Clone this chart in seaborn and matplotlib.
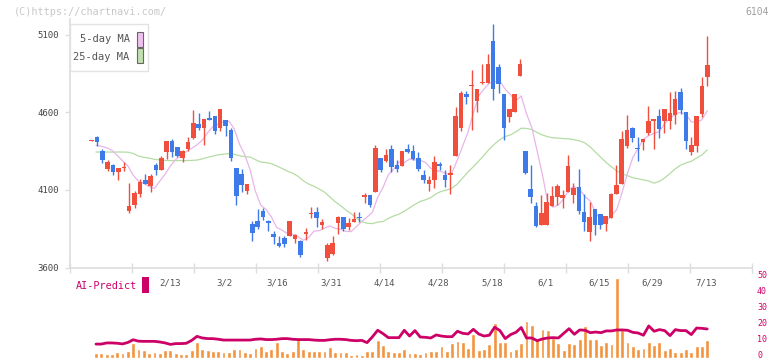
import matplotlib
matplotlib.use("Agg")
import matplotlib.pyplot as plt
from matplotlib.patches import Rectangle
from matplotlib.transforms import ScaledTranslation
import numpy as np
import pandas as pd
import seaborn as sns

# daily candles (red = up, blue = down)
opens = [4414, 4439, 4348, 4234, 4258, 4215, 4240, 3963, 4000, 4073, 4161, 4125, 4258, 4228, 4344, 4417,
         4379, 4305, 4361, 4434, 4523, 4499, 4566, 4574, 4499, 4548, 4484, 4239, 4204, 4092, 3882, 3897,
         3961, 3897, 3817, 3759, 3787, 3802, 3785, 3768, 3819, 3944, 3955, 3873, 3660, 3684, 3884, 3923,
         3858, 3892, 3925, 4054, 4065, 4086, 4303, 4284, 4361, 4258, 4254, 4361, 4348, 4303, 4194, 4138,
         4166, 4265, 4194, 4196, 4318, 4499, 4720, 4768, 4673, 4789, 4791, 5058, 4890, 4716, 4570, 4602,
         4834, 4348, 4103, 3994, 3877, 3873, 3996, 4054, 4047, 4086, 4067, 4116, 3955, 3828, 3974, 3942,
         3880, 3918, 4071, 4138, 4381, 4497, 4370, 4409, 4467, 4544, 4574, 4544, 4544, 4583, 4729, 4600,
         4342, 4381, 4589, 4828]
highs = [4420, 4445, 4366, 4295, 4265, 4243, 4280, 4142, 4090, 4172, 4200, 4204, 4271, 4316, 4417, 4426,
         4379, 4359, 4439, 4613, 4594, 4555, 4606, 4574, 4619, 4548, 4501, 4243, 4232, 4136, 3897, 3974,
         3981, 3903, 3834, 3806, 3806, 3897, 3817, 3779, 3854, 3989, 3989, 3910, 3755, 3806, 3930, 3923,
         3916, 3955, 3955, 4077, 4065, 4387, 4303, 4361, 4387, 4290, 4348, 4394, 4387, 4342, 4226, 4187,
         4316, 4277, 4226, 4258, 4634, 4740, 4738, 4875, 4753, 4914, 4974, 5168, 4910, 4716, 4619, 4716,
         4942, 4348, 4258, 4019, 4065, 4077, 4123, 4136, 4097, 4323, 4142, 4232, 4071, 4019, 3974, 3942,
         3929, 4077, 4258, 4477, 4581, 4503, 4439, 4426, 4639, 4557, 4619, 4619, 4729, 4735, 4755, 4600,
         4439, 4574, 4826, 5090]
lows = [4412, 4383, 4273, 4222, 4196, 4163, 4222, 3951, 3983, 4054, 4136, 4086, 4198, 4226, 4297, 4314,
        4312, 4280, 4353, 4430, 4488, 4389, 4548, 4460, 4480, 4447, 4286, 4002, 4086, 4073, 3770, 3849,
        3905, 3834, 3751, 3733, 3731, 3802, 3759, 3667, 3779, 3916, 3860, 3845, 3641, 3680, 3813, 3834,
        3839, 3892, 3890, 4015, 3989, 4086, 4215, 4277, 4215, 4215, 4254, 4336, 4290, 4222, 4146, 4092,
        4112, 4226, 4118, 4073, 4318, 4481, 4652, 4484, 4602, 4785, 4791, 4677, 4725, 4424, 4538, 4602,
        4834, 4202, 4015, 3858, 3877, 3873, 3996, 4002, 3985, 4086, 4015, 3942, 3832, 3770, 3809, 3847,
        3834, 3918, 4071, 4138, 4368, 4409, 4286, 4355, 4454, 4361, 4434, 4467, 4492, 4525, 4587, 4361,
        4325, 4344, 4570, 4770]
closes = [4418, 4409, 4292, 4277, 4215, 4243, 4245, 3994, 4077, 4153, 4138, 4187, 4228, 4303, 4417, 4344,
          4318, 4353, 4406, 4529, 4499, 4555, 4553, 4480, 4619, 4512, 4305, 4060, 4131, 4136, 3822, 3858,
          3923, 3888, 3796, 3738, 3751, 3897, 3811, 3680, 3828, 3953, 3918, 3890, 3748, 3755, 3923, 3847,
          3884, 3910, 3918, 4065, 4002, 4368, 4228, 4323, 4247, 4234, 4348, 4342, 4297, 4234, 4161, 4161,
          4277, 4254, 4161, 4207, 4574, 4725, 4699, 4776, 4753, 4798, 4910, 4751, 4785, 4499, 4619, 4716,
          4910, 4209, 4054, 3865, 3948, 4019, 4058, 4123, 4065, 4252, 4110, 3963, 3893, 3923, 3873, 3873,
          3929, 4071, 4129, 4426, 4484, 4434, 4363, 4426, 4542, 4557, 4490, 4619, 4594, 4684, 4615, 4415,
          4387, 4574, 4768, 4903]

# moving averages before enough history is on the chart
ma5_head = [4387, 4381, 4372, 4355]
ma25_head = [4344, 4344, 4344, 4344, 4344, 4344, 4343, 4335, 4318, 4310, 4305, 4297, 4293, 4290,
             4289, 4289, 4289, 4289, 4290, 4292, 4300, 4310, 4318, 4326]

volume = [2.9, 2.9, 2.3, 2.3, 3.3, 2.9, 4.2, 9.0, 5.4, 5.0, 2.9, 3.5, 3.1, 4.8, 4.8, 2.7, 2.3, 2.3,
          4.8, 9.8, 5.4, 5.0, 4.2, 4.2, 3.75, 3.75, 5.4, 5.4, 3.3, 2.9, 5.8, 7.1, 4.2, 5.4, 9.8, 4.2,
          2.9, 4.2, 12.3, 5.4, 4.2, 4.2, 4.2, 4.2, 6.7, 3.75, 3.3, 3.3, 1.7, 2.1, 1.7, 4.2, 4.2,
          11.25, 8.1, 4.4, 3.75, 3.75, 5.6, 3.1, 3.1, 2.5, 3.75, 4.4, 4.4, 7.5, 4.4, 9.4, 10.6, 10.0,
          6.25, 15.0, 5.0, 5.6, 8.75, 21.9, 10.0, 10.0, 4.4, 5.6, 9.4, 23.1, 20.6, 12.5, 18.1, 17.5,
          12.5, 9.4, 5.0, 9.4, 8.75, 11.9, 20.0, 11.9, 11.9, 8.1, 10.0, 8.75, 50, 17.5, 10.0, 7.5,
          5.6, 6.25, 10.0, 8.1, 10.0, 5.0, 6.25, 3.75, 3.75, 5.6, 3.75, 7.5, 7.5, 11.25]
ai_predict = [8.5, 8.5, 9.2, 9.2, 9.0, 8.6, 9.5, 11.2, 10.3, 10.2, 10.2, 10.2, 9.8, 9.2, 8.3, 8.8,
              8.8, 9.0, 10.8, 13.3, 12.3, 11.9, 11.9, 11.5, 11.0, 11.0, 11.0, 11.0, 11.0, 11.0, 11.5,
              11.7, 11.3, 11.3, 11.5, 11.9, 11.9, 11.5, 11.3, 11.3, 11.3, 11.0, 10.8, 10.8, 11.2, 11.5,
              11.5, 11.3, 10.8, 10.6, 10.8, 9.4, 13.0,
              17.1, 15.0, 12.5, 12.5, 12.5, 17.1, 13.5, 16.9, 12.9, 12.7, 12.3, 14.2, 13.5, 13.1, 13.1,
              16.5, 15.2, 14.8, 17.7, 14.8, 13.5, 14.0, 19.0, 16.9, 11.9, 14.4, 15.8, 18.8, 12.3, 12.3,
              10.6, 11.7, 12.3, 12.5, 12.3, 15.2, 18.1, 14.6, 17.3, 17.1, 15.6, 16.0, 15.6, 16.7, 16.7,
              17.3, 17.3, 17.1, 15.8, 15.4, 14.0, 19.8, 16.5, 17.5, 16.9, 13.75, 17.5, 16.9, 16.9, 14.4,
              18.5, 18.3, 17.9]

date_labels = ["2/13", "3/2", "3/16", "3/31", "4/14", "4/28", "5/18", "6/1", "6/15", "6/29", "7/13"]
date_label_pos = [15, 25, 35, 45, 55, 65, 75, 85, 95, 105, 115]

RED = "#f04f3e"
BLUE = "#3e7be9"
PINK = "#e9b5e9"
GREEN = "#b5dca5"
MAGENTA = "#cc0066"
ORANGE = "#f2943e"
GRID = "#dddddd"

df = pd.DataFrame({"open": opens, "high": highs, "low": lows, "close": closes,
                   "volume": volume, "ai": ai_predict})
df["day"] = np.arange(len(df))
ma5 = df["close"].rolling(5).mean()
ma5.iloc[:len(ma5_head)] = ma5_head
ma25 = df["close"].rolling(25).mean()
ma25.iloc[:len(ma25_head)] = ma25_head
df["ma5"] = ma5
df["ma25"] = ma25

sns.set_theme(style="white")
plt.rcParams["font.family"] = ["DejaVu Sans Mono"]

W, H = 772, 361
fig = plt.figure(figsize=(W / 100, H / 100), dpi=100)


def px_box(left, top, right, bottom):
    return [left / W, 1 - bottom / H, (right - left) / W, (bottom - top) / H]


def fig_xy(x, y):
    return x / W, 1 - y / H


# price panel
ax = fig.add_axes(px_box(70, 19.2, 752, 267.5))
cx0 = (70 - 91.7) / 5.353
cx1 = (752 - 91.7) / 5.353
ax.set_xlim(cx0, cx1)
ax.set_ylim(3600, 5200)

up = df["close"] >= df["open"]
colors = np.where(up, RED, BLUE)
ax.vlines(df["day"], df["low"], df["high"], colors=colors, lw=1.0, zorder=2)
body_low = np.minimum(df["open"], df["close"])
body_h = np.maximum((df["close"] - df["open"]).abs(), 7)
ax.bar(df["day"], body_h, bottom=body_low, width=0.86, color=colors, lw=0, zorder=3)

for side in ["top", "right"]:
    ax.spines[side].set_visible(False)
for side in ["left", "bottom"]:
    ax.spines[side].set_color(GRID)
    ax.spines[side].set_linewidth(1.2)
ax.set_yticks([3600, 4100, 4600, 5100])
ax.tick_params(axis="y", length=3.8, width=1, color=GRID, pad=4, labelsize=6.5,
               labelcolor="#444444", left=True)
ax.set_xticks(np.linspace(cx0, cx1, 12))
ax.set_xticklabels([])
ax.tick_params(axis="x", direction="inout", length=6.5, width=1, color=GRID, bottom=True)

# moving averages (drawn on their own slightly offset day scale)
ax_ma = fig.add_axes(px_box(70, 19.2, 752, 267.5), sharey=ax)
ax_ma.patch.set_visible(False)
ax_ma.axis("off")
sns.lineplot(data=df, x="day", y="ma25", ax=ax_ma, color=GREEN, lw=0.9, zorder=1)
sns.lineplot(data=df, x="day", y="ma5", ax=ax_ma, color=PINK, lw=0.9, zorder=1)
ax_ma.set_xlim((70 - 96) / 5.315, (752 - 96) / 5.315)
ax_ma.set_zorder(0)
ax.set_zorder(1)
ax.patch.set_visible(False)

# volume / AI-Predict panel
axv = fig.add_axes(px_box(70, 274.3, 752, 357.7))
sns.barplot(data=df, x="day", y="volume", ax=axv, native_scale=True, width=0.72,
            color=ORANGE, saturation=1, zorder=1)
sns.lineplot(data=df, x="day", y="ai", ax=axv, color=MAGENTA, lw=2.0, zorder=2)
axv.set_xlim((70 - 96) / 5.315, (752 - 96) / 5.315)
axv.set_ylim(0, 52)
axv.patch.set_visible(False)
for s in axv.spines.values():
    s.set_visible(False)
axv.set_xlabel("")
axv.set_ylabel("")
axv.set_xticks([])
axv.yaxis.tick_right()
axv.set_yticks([0, 10, 20, 30, 40, 50])
axv.tick_params(axis="y", length=0, pad=3.6, labelsize=6, labelcolor=MAGENTA, right=True)
lift = ScaledTranslation(0, 2.2 / 72, fig.dpi_scale_trans)
for lab in axv.get_yticklabels():
    lab.set_transform(lab.get_transform() + lift)

ax.set_xlabel("")
ax.set_ylabel("")
ax_ma.set_xlabel("")
ax_ma.set_ylabel("")

# date labels between the panels
for pos, lab in zip(date_label_pos, date_labels):
    xf = fig.transFigure.inverted().transform(ax.transData.transform((pos, 3600)))[0]
    fig.text(xf - 1.5 / W, 1 - 282.5 / H, lab, ha="center", va="center", fontsize=6.5,
             color="#555555")

# legend box
fig.add_artist(Rectangle(fig_xy(70, 71.3), 78.3 / W, 47.3 / H, transform=fig.transFigure,
                         facecolor="white", edgecolor="#e2e2e2", lw=1.0, zorder=5))
fig.text(*fig_xy(129.5, 39.3), "5-day MA", ha="right", va="center", fontsize=7.5,
         color="#555555", zorder=6)
fig.text(*fig_xy(129.5, 57), "25-day MA", ha="right", va="center", fontsize=7.5,
         color="#555555", zorder=6)
fig.add_artist(Rectangle(fig_xy(136.5, 46.7), 6 / W, 15 / H, transform=fig.transFigure,
                         facecolor="#f0c0f0", edgecolor="#666666", lw=0.8, zorder=6))
fig.add_artist(Rectangle(fig_xy(136.5, 63.3), 6 / W, 15 / H, transform=fig.transFigure,
                         facecolor="#c0e0b0", edgecolor="#666666", lw=0.8, zorder=6))

# AI-Predict label
fig.text(*fig_xy(75.5, 286), "AI-Predict", ha="left", va="center", fontsize=7.3, color=MAGENTA)
fig.add_artist(Rectangle(fig_xy(142, 293), 7 / W, 16 / H, transform=fig.transFigure,
                         facecolor=MAGENTA, edgecolor="none", zorder=5))

# header texts
fig.text(*fig_xy(14, 12.3), "(C)https://chartnavi.com/", ha="left", va="center",
         fontsize=7.3, color="#c8c8c8")
fig.text(*fig_xy(769, 12.3), "6104", ha="right", va="center", fontsize=7, color="#a0a0a0")

fig.savefig("out.png", dpi=100)
